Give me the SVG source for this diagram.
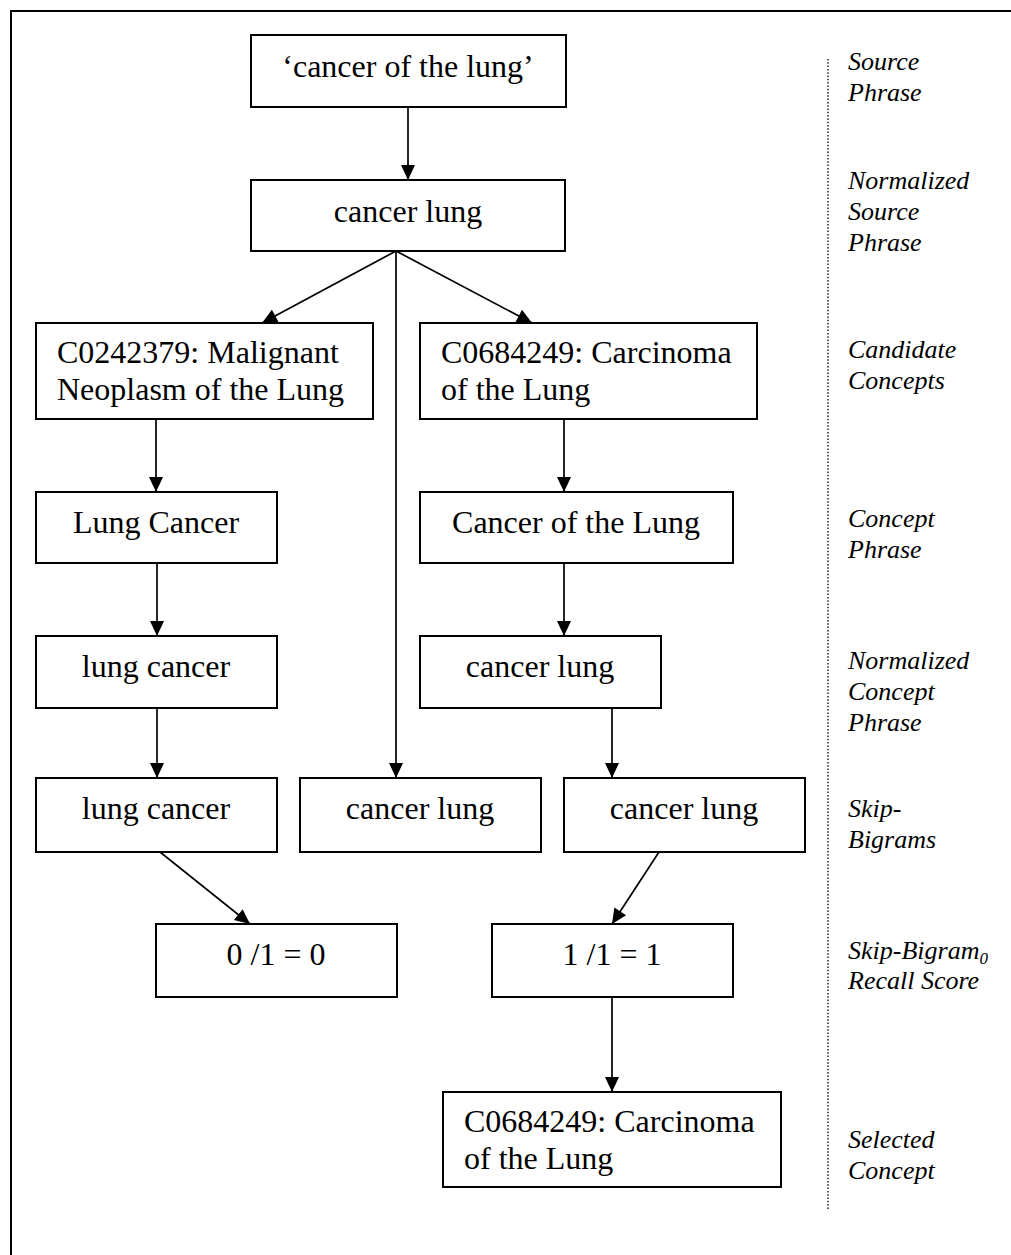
<svg xmlns="http://www.w3.org/2000/svg" width="1011" height="1255" viewBox="0 0 1011 1255">
<defs>
<marker id="ah" markerUnits="userSpaceOnUse" markerWidth="18" markerHeight="18" viewBox="-1 -9 18 18" refX="15" refY="0" orient="auto">
<path d="M0,-7 L15,0 L0,7 z" fill="#000"/>
</marker>
<style>
.box{fill:#fff;stroke:#000;stroke-width:2}
.t{font-family:"Liberation Serif","Times New Roman",serif;font-size:32px;fill:#000}
.c{text-anchor:middle}
.lab{font-family:"Liberation Serif","Times New Roman",serif;font-size:26px;font-style:italic;fill:#000}
.con{stroke:#000;stroke-width:1.7;fill:none;marker-end:url(#ah)}
</style>
</defs>
<rect width="1011" height="1255" fill="#fff"/>
<path d="M11,1255 L11,11 L1011,11" fill="none" stroke="#000" stroke-width="2"/>
<line x1="828" y1="59" x2="828" y2="1210" stroke="#222" stroke-width="1.5" stroke-dasharray="1.5 1.8"/>

<g id="connectors">
<line class="con" x1="408" y1="107" x2="408" y2="180"/>
<line class="con" x1="396" y1="251" x2="262" y2="323"/>
<line class="con" x1="396" y1="251" x2="532" y2="323"/>
<line class="con" x1="396" y1="251" x2="396" y2="778"/>
<line class="con" x1="156" y1="419" x2="156" y2="492"/>
<line class="con" x1="564" y1="419" x2="564" y2="492"/>
<line class="con" x1="157" y1="563" x2="157" y2="636"/>
<line class="con" x1="564" y1="563" x2="564" y2="636"/>
<line class="con" x1="157" y1="708" x2="157" y2="778"/>
<line class="con" x1="612" y1="708" x2="612" y2="778"/>
<line class="con" x1="160" y1="852" x2="250" y2="924"/>
<line class="con" x1="659" y1="852" x2="612" y2="924"/>
<line class="con" x1="612" y1="997" x2="612" y2="1092"/>
</g>

<g id="n-source">
<rect class="box" x="251" y="35" width="315" height="72"/>
<text class="t c" x="408" y="77">‘cancer of the lung’</text>
</g>
<g id="n-norm-source">
<rect class="box" x="251" y="180" width="314" height="71"/>
<text class="t c" x="408" y="222">cancer lung</text>
</g>
<g id="n-cand1">
<rect class="box" x="36" y="323" width="337" height="96"/>
<text class="t" x="57" y="363">C0242379: Malignant</text>
<text class="t" x="57" y="400">Neoplasm of the Lung</text>
</g>
<g id="n-cand2">
<rect class="box" x="420" y="323" width="337" height="96"/>
<text class="t" x="441" y="363">C0684249: Carcinoma</text>
<text class="t" x="441" y="400">of the Lung</text>
</g>
<g id="n-phrase1">
<rect class="box" x="36" y="492" width="241" height="71"/>
<text class="t c" x="156" y="533">Lung Cancer</text>
</g>
<g id="n-phrase2">
<rect class="box" x="420" y="492" width="313" height="71"/>
<text class="t c" x="576" y="533">Cancer of the Lung</text>
</g>
<g id="n-norm1">
<rect class="box" x="36" y="636" width="241" height="72"/>
<text class="t c" x="156" y="677">lung cancer</text>
</g>
<g id="n-norm2">
<rect class="box" x="420" y="636" width="241" height="72"/>
<text class="t c" x="540" y="677">cancer lung</text>
</g>
<g id="n-skip1">
<rect class="box" x="36" y="778" width="241" height="74"/>
<text class="t c" x="156" y="819">lung cancer</text>
</g>
<g id="n-skip2">
<rect class="box" x="300" y="778" width="241" height="74"/>
<text class="t c" x="420" y="819">cancer lung</text>
</g>
<g id="n-skip3">
<rect class="box" x="564" y="778" width="241" height="74"/>
<text class="t c" x="684" y="819">cancer lung</text>
</g>
<g id="n-score1">
<rect class="box" x="156" y="924" width="241" height="73"/>
<text class="t c" x="276" y="965">0 /1 = 0</text>
</g>
<g id="n-score2">
<rect class="box" x="492" y="924" width="241" height="73"/>
<text class="t c" x="612" y="965">1 /1 = 1</text>
</g>
<g id="n-selected">
<rect class="box" x="443" y="1092" width="338" height="95"/>
<text class="t" x="464" y="1132">C0684249: Carcinoma</text>
<text class="t" x="464" y="1169">of the Lung</text>
</g>

<g id="labels">
<text class="lab" x="848" y="70">Source</text>
<text class="lab" x="848" y="101">Phrase</text>
<text class="lab" x="848" y="189">Normalized</text>
<text class="lab" x="848" y="220">Source</text>
<text class="lab" x="848" y="251">Phrase</text>
<text class="lab" x="848" y="358">Candidate</text>
<text class="lab" x="848" y="389">Concepts</text>
<text class="lab" x="848" y="527">Concept</text>
<text class="lab" x="848" y="558">Phrase</text>
<text class="lab" x="848" y="669">Normalized</text>
<text class="lab" x="848" y="700">Concept</text>
<text class="lab" x="848" y="731">Phrase</text>
<text class="lab" x="848" y="817">Skip-</text>
<text class="lab" x="848" y="848">Bigrams</text>
<text class="lab" x="848" y="959">Skip-Bigram<tspan font-size="17" dy="5">0</tspan></text>
<text class="lab" x="848" y="989">Recall Score</text>
<text class="lab" x="848" y="1148">Selected</text>
<text class="lab" x="848" y="1179">Concept</text>
</g>
</svg>
